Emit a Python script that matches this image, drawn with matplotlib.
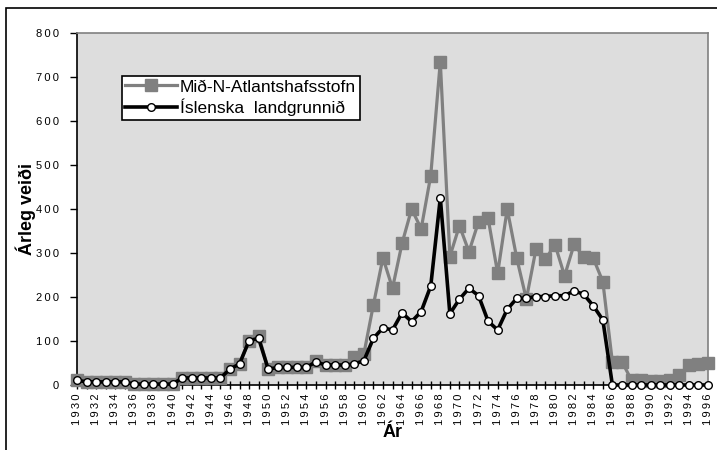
import matplotlib
matplotlib.use("Agg")
import matplotlib.pyplot as plt
import numpy as np
from matplotlib.patches import Rectangle

plt.rcParams['font.family'] = ['Liberation Sans', 'DejaVu Sans']

years = np.arange(1930, 1997)

# Mið-N-Atlantshafsstofn
mid_atl = [11, 7, 7, 7, 7, 7, 2, 2, 2, 2, 2,
           16, 16, 16, 16, 16, 36, 48, 101, 112, 36,
           40, 40, 40, 40, 55, 45, 46, 45, 64, 70,
           182, 289, 220, 322, 400, 355, 476, 735, 292, 362,
           303, 371, 379, 254, 400, 288, 195, 308, 286, 319,
           248, 320, 290, 288, 235, 52, 53, 11, 11, 9,
           9, 11, 23, 45, 48, 51]

# Íslenska landgrunnið
isl = [11, 7, 7, 7, 7, 7, 2, 2, 2, 2, 2,
       16, 16, 16, 16, 16, 36, 48, 101, 106, 36,
       40, 40, 40, 40, 53, 45, 46, 45, 48, 55,
       106, 130, 125, 164, 144, 167, 225, 425, 162, 195,
       220, 203, 145, 125, 172, 197, 197, 201, 201, 203,
       203, 214, 206, 180, 148, 0, 0, 0, 0, 0,
       0, 0, 0, 0, 0, 0]

y_ticks = list(range(0, 801, 100))


def spaced(s):
    # tick labels in the original are drawn with wide letter spacing
    return '\u2009'.join(s)


fig = plt.figure(figsize=(7.17, 4.5), dpi=100)
ax = fig.add_axes([77/717, 1 - 385/450, 631/717, 352/450])
ax.set_facecolor('#dddddd')

# outer frame of the chart (runs off right and bottom)
fig.patches.append(Rectangle((6/717, -0.1), 1.2, 1 - 7.5/450 + 0.1,
                             transform=fig.transFigure, fill=False,
                             edgecolor='black', linewidth=1.2))

ax.plot(years, mid_atl, color='#808080', linewidth=2.3, marker='s',
        markersize=9, markerfacecolor='#808080', markeredgecolor='#808080',
        clip_on=False, zorder=3, label='Mið-N-Atlantshafsstofn')
ax.plot(years, isl, color='black', linewidth=2.6, marker='o',
        markersize=5.5, markerfacecolor='white', markeredgecolor='black',
        markeredgewidth=1.0, clip_on=False, zorder=4, label='Íslenska  landgrunnið')

ax.set_xlim(1930, 1996)
ax.set_ylim(0, 800)
ax.set_yticks(y_ticks)
ax.set_yticklabels([spaced(str(v)) for v in y_ticks], fontsize=8)
ax.set_xticks(years)
ax.set_xticklabels([spaced(str(y)) if (y % 2 == 0) else '' for y in years],
                   rotation=90, fontsize=8)
ax.tick_params(axis='x', direction='inout', length=6, width=1, pad=3)
ax.tick_params(axis='y', direction='out', length=5, width=1, pad=8)

for side in ['top', 'right']:
    ax.spines[side].set_color('#808080')
    ax.spines[side].set_linewidth(1.2)
for side in ['left', 'bottom']:
    ax.spines[side].set_color('black')
    ax.spines[side].set_linewidth(1.2)

ax.set_ylabel('Árleg veiði', fontsize=13, fontweight='bold')
ax.set_xlabel('Ár', fontsize=13, fontweight='bold')
ax.yaxis.set_label_coords(-0.082, 0.5)
ax.xaxis.set_label_coords(0.5, -0.136)
ax.xaxis.label.set_va('center')
ax.yaxis.label.set_va('center')

leg = ax.legend(loc='upper left', bbox_to_anchor=(0.071, 0.878), fontsize=12.5,
                frameon=True, fancybox=False, shadow=False, handlelength=3.0,
                handletextpad=0.15, borderpad=0.2, labelspacing=0.25,
                borderaxespad=0)
leg.get_frame().set_edgecolor('black')
leg.get_frame().set_linewidth(1.2)
leg.get_frame().set_facecolor('white')
leg.get_frame().set_alpha(1)

fig.savefig('out.png', dpi=100)
